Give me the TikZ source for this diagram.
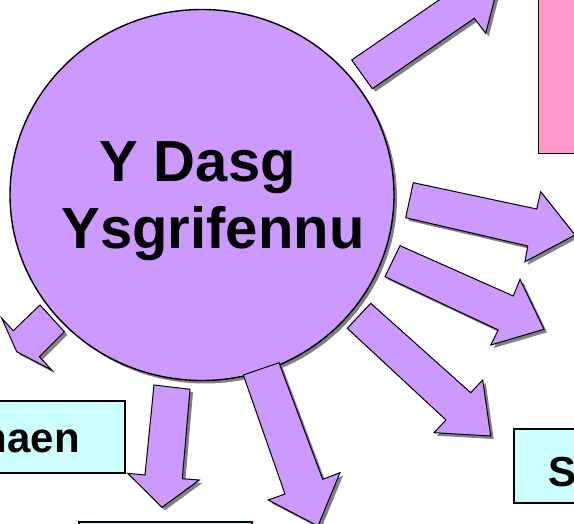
\documentclass[tikz,border=0pt]{standalone}
\usepackage{fontspec}
\setmainfont{Liberation Sans}
\usetikzlibrary{shapes.geometric,shadows}
\definecolor{lilac}{HTML}{CC99FF}
\definecolor{rosebox}{HTML}{FF99CC}
\definecolor{cyanbox}{HTML}{CCFFFF}
\definecolor{shadowgray}{HTML}{808080}
\begin{document}
\begin{tikzpicture}[x=1pt,y=-1pt]

    \tikzset{
      dropgray/.style={
        drop shadow={shadow xshift=3pt,shadow yshift=-3pt,fill=shadowgray,opacity=1},
      },
      blockarrow/.style={dropgray,draw=black,fill=lilac,line width=1pt},
      textbox/.style={draw=black,line width=1.4pt},
      boxtext/.style={font=\fontsize{42}{44}\selectfont\bfseries,inner sep=0pt},
      titletext/.style={font=\fontsize{58}{60}\selectfont\bfseries,inner sep=0pt,anchor=base},
    }
    \useasboundingbox (0,0) rectangle (574,524);
    \clip (0,0) rectangle (574,524);
    \fill[white] (0,0) rectangle (574,524);
	\draw[textbox,fill=rosebox] (538.7,153.3) rectangle (590,-10);
	\draw[textbox,fill=cyanbox] (-10,401) rectangle (125,473);
	\draw[textbox,fill=cyanbox] (514,429) rectangle (590,503);
	\draw[textbox,fill=cyanbox] (79,522) rectangle (252,540);
	\node[boxtext,anchor=base east] (haen) at (80,452) {haen};
	\node[boxtext,anchor=base west] (sbox) at (548,486) {S};
	\node[ellipse,draw=black,fill=lilac,line width=1.4pt,dropgray,inner sep=0pt,
	  minimum width=384pt,minimum height=371pt] (task) at (202,195) {};
	\node[titletext] (dasg) at (197.5,182) {Y Dasg};
	\node[titletext] (ysgrifennu) at (213,249) {Ysgrifennu};
	\draw[blockarrow] (351.7,60) -- (372.3,88.7) -- (474.3,18.3) -- (485.7,33.3) -- (499.7,-20.5) -- (444.5,-26.5) -- (454.4,-10.5) -- cycle;
	\draw[blockarrow] (413.3,182.7) -- (536.7,209) -- (540.7,191.7) -- (575,235) -- (525,261.7) -- (527.7,246) -- (405.7,217.7) -- cycle;
	\draw[blockarrow] (400,245.7) -- (513.3,296) -- (520,279.3) -- (544,329.3) -- (490.7,345) -- (498.3,330) -- (385,276.7) -- cycle;
	\draw[blockarrow] (370.7,303.3) -- (470.7,392.7) -- (482.7,380) -- (490.7,436) -- (434,432.7) -- (446,420) -- (347.3,328.3) -- cycle;
	\draw[blockarrow] (279,362.7) -- (322.7,479.3) -- (340,472.7) -- (318,526) -- (268.3,500) -- (285,494) -- (243.3,375) -- cycle;
	\draw[blockarrow] (190,389.3) -- (182.3,478.7) -- (199.3,480) -- (162,507.3) -- (127.7,473.3) -- (145,475) -- (154,385) -- cycle;
	\draw[blockarrow] (40,305) -- (64.3,331.7) -- (39.3,356.7) -- (51.7,370) -- (16.7,351.7) -- (1.7,318.3) -- (13.3,330.7) -- cycle;

\end{tikzpicture}
\end{document}
